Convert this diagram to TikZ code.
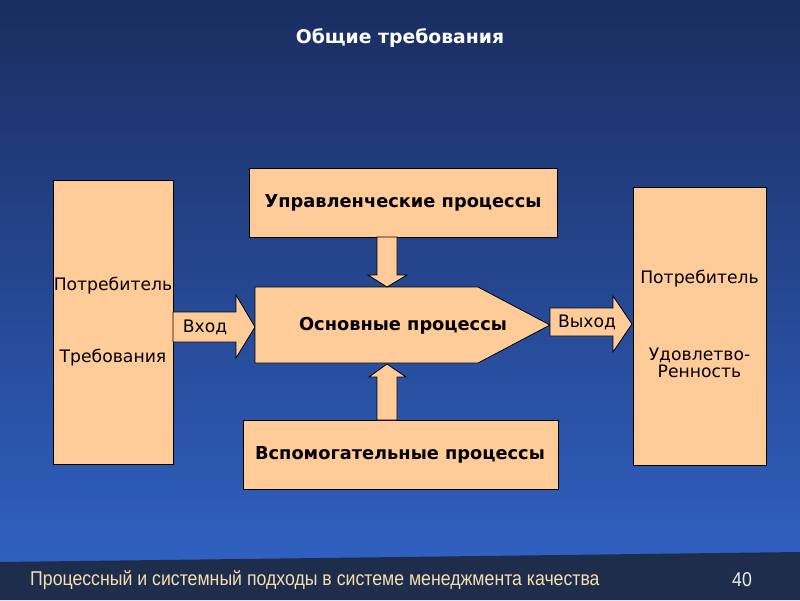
\documentclass[tikz,border=0pt]{standalone}
\usepackage{fontspec}
\setmainfont{DejaVu Sans}
\newfontfamily\footfont[FakeStretch=0.885]{Liberation Sans}
\usetikzlibrary{shapes.geometric}
\definecolor{peach}{HTML}{FFCC99}
\definecolor{bgtop}{HTML}{1B2D60}
\definecolor{bgbot}{HTML}{2F60C0}
\definecolor{footbg}{HTML}{1F2D4D}
\definecolor{foottxt}{HTML}{F7DDB0}
\tikzset{
  shapebox/.style={fill=peach,draw=black,line width=0.8pt},
  lbl/.style={font=\fontsize{17.2}{17}\selectfont,text=black,align=center,inner sep=0pt},
  blbl/.style={font=\fontsize{17.8}{20}\selectfont\bfseries,text=black,inner sep=0pt},
}
\begin{document}
\begin{tikzpicture}[x=1pt,y=-1pt]
\useasboundingbox (0,0) rectangle (800,600);
% background
\shade[top color=bgtop,bottom color=bgbot] (0,0) rectangle (800,560);
\fill[bgbot] (0,555) rectangle (800,565);
\fill[footbg] (0,562) -- (800,552) -- (800,600) -- (0,600) -- cycle;
% title
\node[font=\fontsize{18.8}{22}\selectfont\bfseries,text=white] (title) at (400,38) {Общие требования};
% left box
\draw[shapebox] (53,180) rectangle (173,464);
\node[lbl] (lp) at (113,286) {Потребитель};
\node[lbl] (lt) at (113,358) {Требования};
% right box
\draw[shapebox] (633,187) rectangle (766,465);
\node[lbl] (rp) at (699.5,279) {Потребитель};
\node[lbl,align=center] (ru) at (699.5,363) {Удовлетво-\\Ренность};
% top box
\draw[shapebox] (249,168) rectangle (557,237);
\node[blbl] (upr) at (403,203) {Управленческие процессы};
% bottom box
\draw[shapebox] (243,420) rectangle (558,489);
\node[blbl] (vsp) at (400,455) {Вспомогательные процессы};
% input arrow
\draw[shapebox] (173,312) -- (236,312) -- (236,295) -- (255,327) -- (236,358) -- (236,342) -- (173,342) -- cycle;
\node[lbl] (vhod) at (205,327) {Вход};
% main pentagon
\draw[shapebox] (255,287) -- (478,287) -- (550,325) -- (478,363) -- (255,363) -- cycle;
\node[blbl] (osn) at (403,326) {Основные процессы};
% output arrow
\draw[shapebox] (550,308) -- (613,308) -- (613,296) -- (632,324) -- (613,352) -- (613,336) -- (550,336) -- cycle;
\node[lbl] (vyh) at (587,322) {Выход};
% down arrow
\draw[shapebox] (377,237) -- (397,237) -- (397,275) -- (407,275) -- (387,287) -- (368,275) -- (377,275) -- cycle;
% up arrow
\draw[shapebox] (377,420) -- (397,420) -- (397,377) -- (406,377) -- (387,364) -- (369,377) -- (377,377) -- cycle;
% footer
\node[font=\footfont\fontsize{20}{22}\selectfont,text=foottxt,anchor=west,inner sep=0pt] (foot) at (30,580) {Процессный и системный подходы в системе менеджмента качества};
\node[font=\footfont\fontsize{20}{22}\selectfont,text=white!85!gray,inner sep=0pt] (num) at (742,580) {40};
\end{tikzpicture}
\end{document}
